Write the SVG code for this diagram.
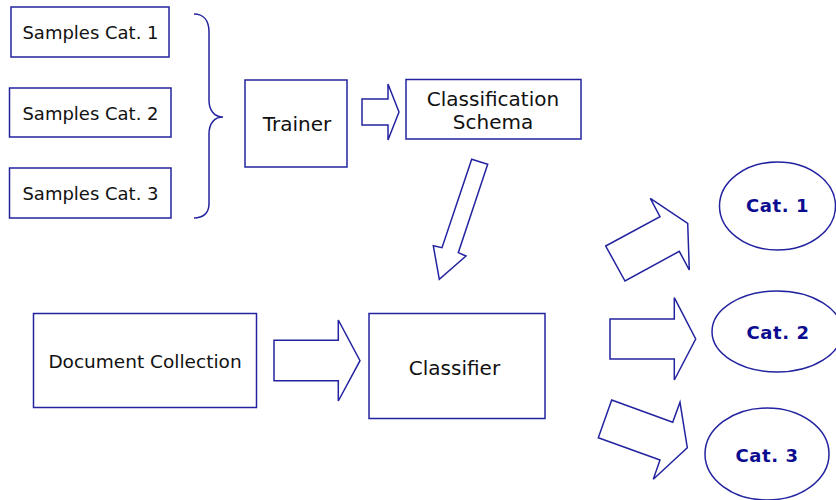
<svg xmlns="http://www.w3.org/2000/svg" width="836" height="500" viewBox="0 0 836 500">
  <style>
    .box { fill: #ffffff; stroke: #2323a0; stroke-width: 1.5; }
    .arrow { fill: #ffffff; stroke: #2323a0; stroke-width: 1.5; stroke-linejoin: miter; }
    .brace { fill: none; stroke: #2323a0; stroke-width: 1.5; }
    .lbl { font-family: "DejaVu Sans", "Liberation Sans", sans-serif; font-size: 18px; fill: #111111; text-anchor: middle; }
    .lbl20 { font-size: 20px; }
    .cat { font-family: "DejaVu Sans", "Liberation Sans", sans-serif; font-size: 18px; font-weight: bold; fill: #0c0c90; text-anchor: middle; letter-spacing: 0.6px; }
  </style>
  <rect width="836" height="500" fill="#ffffff"/>

  <!-- training samples -->
  <g id="samples1">
    <rect class="box" x="11" y="7" width="158" height="50"/>
    <text class="lbl" x="90.5" y="39">Samples Cat. 1</text>
  </g>
  <g id="samples2">
    <rect class="box" x="9.5" y="88" width="161.5" height="49"/>
    <text class="lbl" x="90.5" y="120">Samples Cat. 2</text>
  </g>
  <g id="samples3">
    <rect class="box" x="9.5" y="168" width="161.5" height="50"/>
    <text class="lbl" x="90.5" y="199.5">Samples Cat. 3</text>
  </g>

  <g id="trainer">
    <rect class="box" x="245" y="80" width="102" height="87"/>
    <text class="lbl lbl20" x="297" y="131">Trainer</text>
  </g>
  <g id="schema">
    <rect class="box" x="406" y="79.5" width="175" height="59.5"/>
    <text class="lbl lbl20" x="493" y="105.5">Classification</text>
    <text class="lbl lbl20" x="493" y="129">Schema</text>
  </g>

  <g id="collection">
    <rect class="box" x="33.5" y="313.5" width="223" height="94"/>
    <text class="lbl" x="145" y="367.5" style="font-size:18.5px">Document Collection</text>
  </g>
  <g id="classifier">
    <rect class="box" x="369" y="313.5" width="176" height="105"/>
    <text class="lbl lbl20" x="454.5" y="375">Classifier</text>
  </g>

  <g id="cat1">
    <ellipse class="box" cx="777.5" cy="206" rx="58" ry="44"/>
    <text class="cat" x="777.5" y="211.5">Cat. 1</text>
  </g>
  <g id="cat2">
    <ellipse class="box" cx="777" cy="331.5" rx="65" ry="40.5"/>
    <text class="cat" x="778" y="339">Cat. 2</text>
  </g>
  <g id="cat3">
    <ellipse class="box" cx="767" cy="454" rx="62" ry="46"/>
    <text class="cat" x="767" y="462">Cat. 3</text>
  </g>

  <!-- connectors: brace and block arrows -->
  <g id="connectors">
    <path class="brace" d="M194,14 C203,14 209,20 209,32 L209,100 C209,110 214,117 223,117 C214,117 209,124 209,134 L209,204 C209,213 203,218 194,218"/>
    <polygon class="arrow" points="362,99 388,99 388,84 399,112 388,140 388,125 362,125"/>
    <polygon class="arrow" points="471.7,159.3 487.7,164.3 458.3,252.7 466,256 439.3,279.3 433.3,245.7 442,247.7"/>
    <polygon class="arrow" points="274,340.3 338.3,340.3 338.3,320 360,360.7 338.3,401 338.3,380.7 274,380.7"/>
    <polygon class="arrow" points="605.7,246 660,216.7 650.3,198.3 687.7,223.3 689.3,270 679.3,251.3 625,281"/>
    <polygon class="arrow" points="610,319 674.3,319 674.3,297.7 695.7,339 674.3,380 674.3,359 610,359"/>
    <polygon class="arrow" points="611.7,400 672.7,422.3 680,402.3 687.3,447.7 653.3,479.3 660,460 598.3,437.7"/>
  </g>
</svg>
